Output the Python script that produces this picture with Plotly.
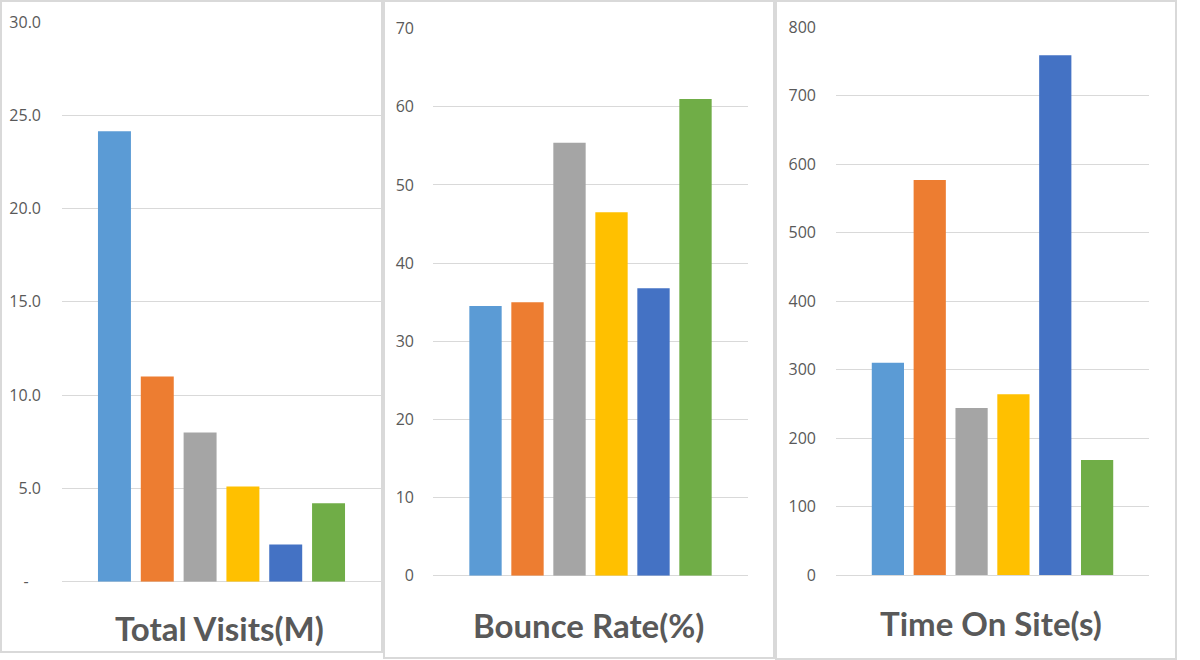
import plotly.graph_objects as go

W, H = 1200, 660

sites = ["Site 1", "Site 2", "Site 3", "Site 4", "Site 5", "Site 6"]
colors = ["#5B9BD5", "#ED7D31", "#A5A5A5", "#FFC000", "#4472C4", "#70AD47"]

total_visits = [24.15, 11.0, 8.0, 5.1, 2.0, 4.2]
bounce_rate = [34.5, 35.0, 55.4, 46.5, 36.8, 61.0]
time_on_site = [310, 577, 244, 264, 759, 168]

tv_ticks = [0, 5, 10, 15, 20, 25, 30]
tv_text = ["-\u00a0\u00a0\u00a0", "5.0", "10.0", "15.0", "20.0", "25.0", "30.0"]
br_ticks = [0, 10, 20, 30, 40, 50, 60, 70]
ts_ticks = [0, 100, 200, 300, 400, 500, 600, 700, 800]

titles = ["Total Visits(M)", "Bounce Rate(%)", "Time On Site(s)"]

GRID = "#d9d9d9"
TXT = "#595959"


def px_x(p):
    return p / W


def px_y(p):
    return 1 - p / H


panels = [
    dict(x0=62, x1=381, ytop=22.0, y0=581.7, rng=[0, 30], tv=tv_ticks, tt=tv_text,
         data=total_visits, xr=[-1.225, 6.225], stand=20, tx=220, ty=628,
         box=(1, 1, 382, 652)),
    dict(x0=433, x1=748, ytop=28.7, y0=575.7, rng=[0, 70], tv=br_ticks,
         tt=[str(v) for v in br_ticks], data=bounce_rate, xr=[-1.25, 6.25],
         stand=18, tx=588.5, ty=625, box=(384, 1, 774, 658)),
    dict(x0=836, x1=1149, ytop=27.3, y0=575.0, rng=[0, 800], tv=ts_ticks,
         tt=[str(v) for v in ts_ticks], data=time_on_site, xr=[-1.24, 6.24],
         stand=19, tx=991, ty=623, box=(776, 1, 1176, 659)),
]

fig = go.Figure()
layout = dict(
    template="none",
    width=W, height=H, autosize=False,
    margin=dict(l=0, r=0, t=0, b=0, pad=0),
    paper_bgcolor="white", plot_bgcolor="white",
    showlegend=False, bargap=0.23,
    annotations=[], shapes=[],
)

for i, p in enumerate(panels):
    n = "" if i == 0 else str(i + 1)
    fig.add_trace(go.Bar(
        x=sites, y=p["data"], marker=dict(color=colors, line=dict(width=0)),
        xaxis="x" + n, yaxis="y" + n, hoverinfo="skip",
    ))
    layout["xaxis" + n] = dict(
        domain=[px_x(p["x0"]), px_x(p["x1"])], range=p["xr"], anchor="y" + n,
        showticklabels=False, showgrid=False, showline=False, zeroline=False,
        ticks="", fixedrange=True, automargin=False,
    )
    layout["yaxis" + n] = dict(
        domain=[px_y(p["y0"]), px_y(p["ytop"])], range=p["rng"], anchor="x" + n,
        tickvals=p["tv"], ticktext=p["tt"],
        tickfont=dict(family="Open Sans, sans-serif", size=16, color=TXT),
        showgrid=True, gridcolor=GRID, gridwidth=1,
        zeroline=True, zerolinecolor=GRID, zerolinewidth=1,
        showline=False, ticks="", ticklabelstandoff=p["stand"], fixedrange=True,
        automargin=False,
    )
    layout["annotations"].append(dict(
        text="<b>" + titles[i] + "</b>", xref="paper", yref="paper",
        x=px_x(p["tx"]), y=px_y(p["ty"]), xanchor="center", yanchor="middle",
        showarrow=False, font=dict(family="Lato, sans-serif", size=33, color=TXT),
    ))
    bx0, by0, bx1, by1 = p["box"]
    layout["shapes"].append(dict(
        type="rect", xref="paper", yref="paper",
        x0=px_x(bx0), x1=px_x(bx1), y0=px_y(by1), y1=px_y(by0),
        line=dict(color=GRID, width=2), fillcolor="rgba(0,0,0,0)", layer="below",
    ))

fig.update_layout(**layout)
fig.write_html("out.html", config={"displayModeBar": False})
